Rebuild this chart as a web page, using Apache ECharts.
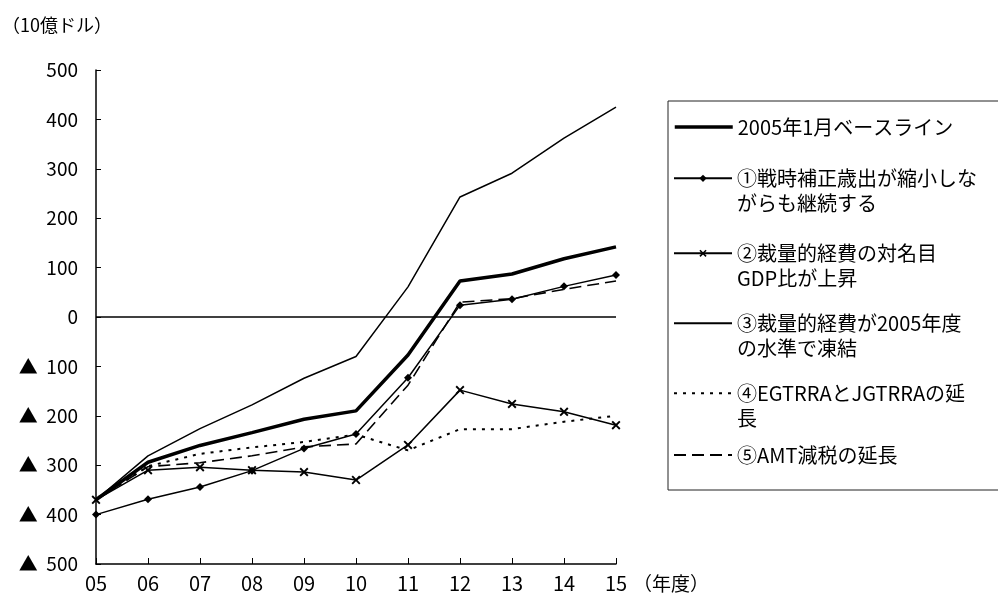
<!DOCTYPE html>
<html>
<head>
<meta charset="utf-8">
<script src="https://cdn.jsdelivr.net/npm/echarts@6/dist/echarts.min.js"></script>
<style>
html,body{margin:0;padding:0;background:#fff;}
#c{width:998px;height:604px;}
</style>
</head>
<body>
<div id="c"></div>
<script>
var years = ['05','06','07','08','09','10','11','12','13','14','15'];
var baseline = [-370,-294,-260,-234,-207,-190,-77,73,87,118,142];
var s1 = [-400,-369,-344,-311,-266,-237,-123,24,36,62,85];
var s2 = [-370,-310,-304,-310,-314,-330,-259,-148,-176,-192,-219];
var s3 = [-370,-281,-226,-178,-124,-80,61,243,291,362,425];
var s4 = [-370,-302,-277,-264,-253,-238,-270,-227,-227,-212,-200];
var s5 = [-370,-303,-295,-281,-263,-257,-138,30,37,56,73];

var names = ['2005年1月ベースライン','①戦時補正歳出が縮小しながらも継続する','②裁量的経費の対名目GDP比が上昇','③裁量的経費が2005年度の水準で凍結','④EGTRRAとJGTRRAの延長','⑤AMT減税の延長'];
var legendLabels = ['2005年1月ベースライン','①戦時補正歳出が縮小しな\nがらも継続する','②裁量的経費の対名目\nGDP比が上昇','③裁量的経費が2005年度\nの水準で凍結','④EGTRRAとJGTRRAの延\n長','⑤AMT減税の延長'];
var yUnit = '（10億ドル）';
var xUnit = '（年度）';

var FONT = '"Noto Sans CJK JP", sans-serif';
var legendIconY = [127, 178.3, 253.3, 323.3, 393.3, 455];
var legendHasSymbol = [false, true, true, false, false, false];
var xSym = 'path://M0,1.5L1.5,0L5,3.5L8.5,0L10,1.5L6.5,5L10,8.5L8.5,10L5,6.5L1.5,10L0,8.5L3.5,5Z';

var legends = names.map(function(n, i){
  var multi = legendLabels[i].indexOf('\n') >= 0;
  var h = multi ? 75 : 25;
  var lg = {
    data: [n],
    left: 673,
    top: legendIconY[i] - h/2,
    padding: 0,
    itemWidth: 58,
    itemHeight: 9,
    selectedMode: false,
    formatter: function(name){
      var idx = names.indexOf(name);
      var t = legendLabels[idx];
      return t.indexOf('\n') >= 0 ? '\n' + t : t;
    },
    textStyle: {fontFamily: FONT, fontSize: 20, lineHeight: 25, color: '#000'}
  };
  if (!legendHasSymbol[i]) lg.itemStyle = {opacity: 0};
  if (i === 0) lg.lineStyle = {width: 3.5, color: '#000'};
  return lg;
});

function mk(name, data, opts){
  var s = {
    name: name, type: 'line', data: data,
    symbol: 'none', showAllSymbol: true,
    lineStyle: {color: '#000', width: 1.5, type: 'solid'},
    itemStyle: {color: '#000'},
    emphasis: {disabled: true}
  };
  for (var k in opts) s[k] = opts[k];
  return s;
}

var series = [
  mk(names[3], s3, {}),
  mk(names[4], s4, {lineStyle: {color:'#000', width: 2, type: [3,6]}}),
  mk(names[5], s5, {lineStyle: {color:'#000', width: 1.6, type: [12,6]}}),
  mk(names[2], s2, {symbol: xSym, symbolSize: 9}),
  mk(names[1], s1, {symbol: 'diamond', symbolSize: 8}),
  mk(names[0], baseline, {lineStyle: {color:'#000', width: 3.5}, z: 5,
    markLine: {silent: true, symbol: 'none', label: {show: false},
      lineStyle: {color: '#000', width: 1.5, type: 'solid'},
      data: [{yAxis: 0}]}})
];

var chart = echarts.init(document.getElementById('c'), null, {renderer: 'canvas'});
chart.setOption({
  animation: false,
  backgroundColor: '#fff',
  textStyle: {fontFamily: FONT},
  title: {text: yUnit, left: 2, top: 16, padding: 0,
    textStyle: {fontFamily: FONT, fontSize: 18, fontWeight: 'normal', color: '#000'}},
  grid: {left: 96, right: 382, top: 70, bottom: 40, containLabel: false},
  legend: legends,
  graphic: [{type: 'rect', silent: true, shape: {x: 668, y: 101, width: 400, height: 389},
    style: {fill: 'none', stroke: '#222', lineWidth: 1}}],
  xAxis: {
    type: 'category', data: years, boundaryGap: false,
    name: xUnit, nameLocation: 'end', nameGap: 16,
    nameTextStyle: {fontFamily: FONT, fontSize: 19, color: '#000', verticalAlign: 'top', padding: [10,0,0,0]},
    axisLine: {onZero: false, lineStyle: {color: '#000', width: 1.5}},
    axisTick: {inside: true, length: 6, lineStyle: {color: '#000', width: 1}},
    axisLabel: {fontFamily: FONT, fontSize: 20, color: '#000', margin: 9},
    splitLine: {show: false}
  },
  yAxis: {
    type: 'value', min: -500, max: 500, interval: 100,
    axisLine: {show: true, lineStyle: {color: '#000', width: 1.5}},
    axisTick: {show: true, inside: true, length: 5, lineStyle: {color: '#000', width: 1}},
    axisLabel: {fontFamily: FONT, fontSize: 19, color: '#000', margin: 18,
      formatter: function(v){ return v < 0 ? '▲  ' + (-v) : String(v); }},
    splitLine: {show: false}
  },
  series: series
});
</script>
</body>
</html>
